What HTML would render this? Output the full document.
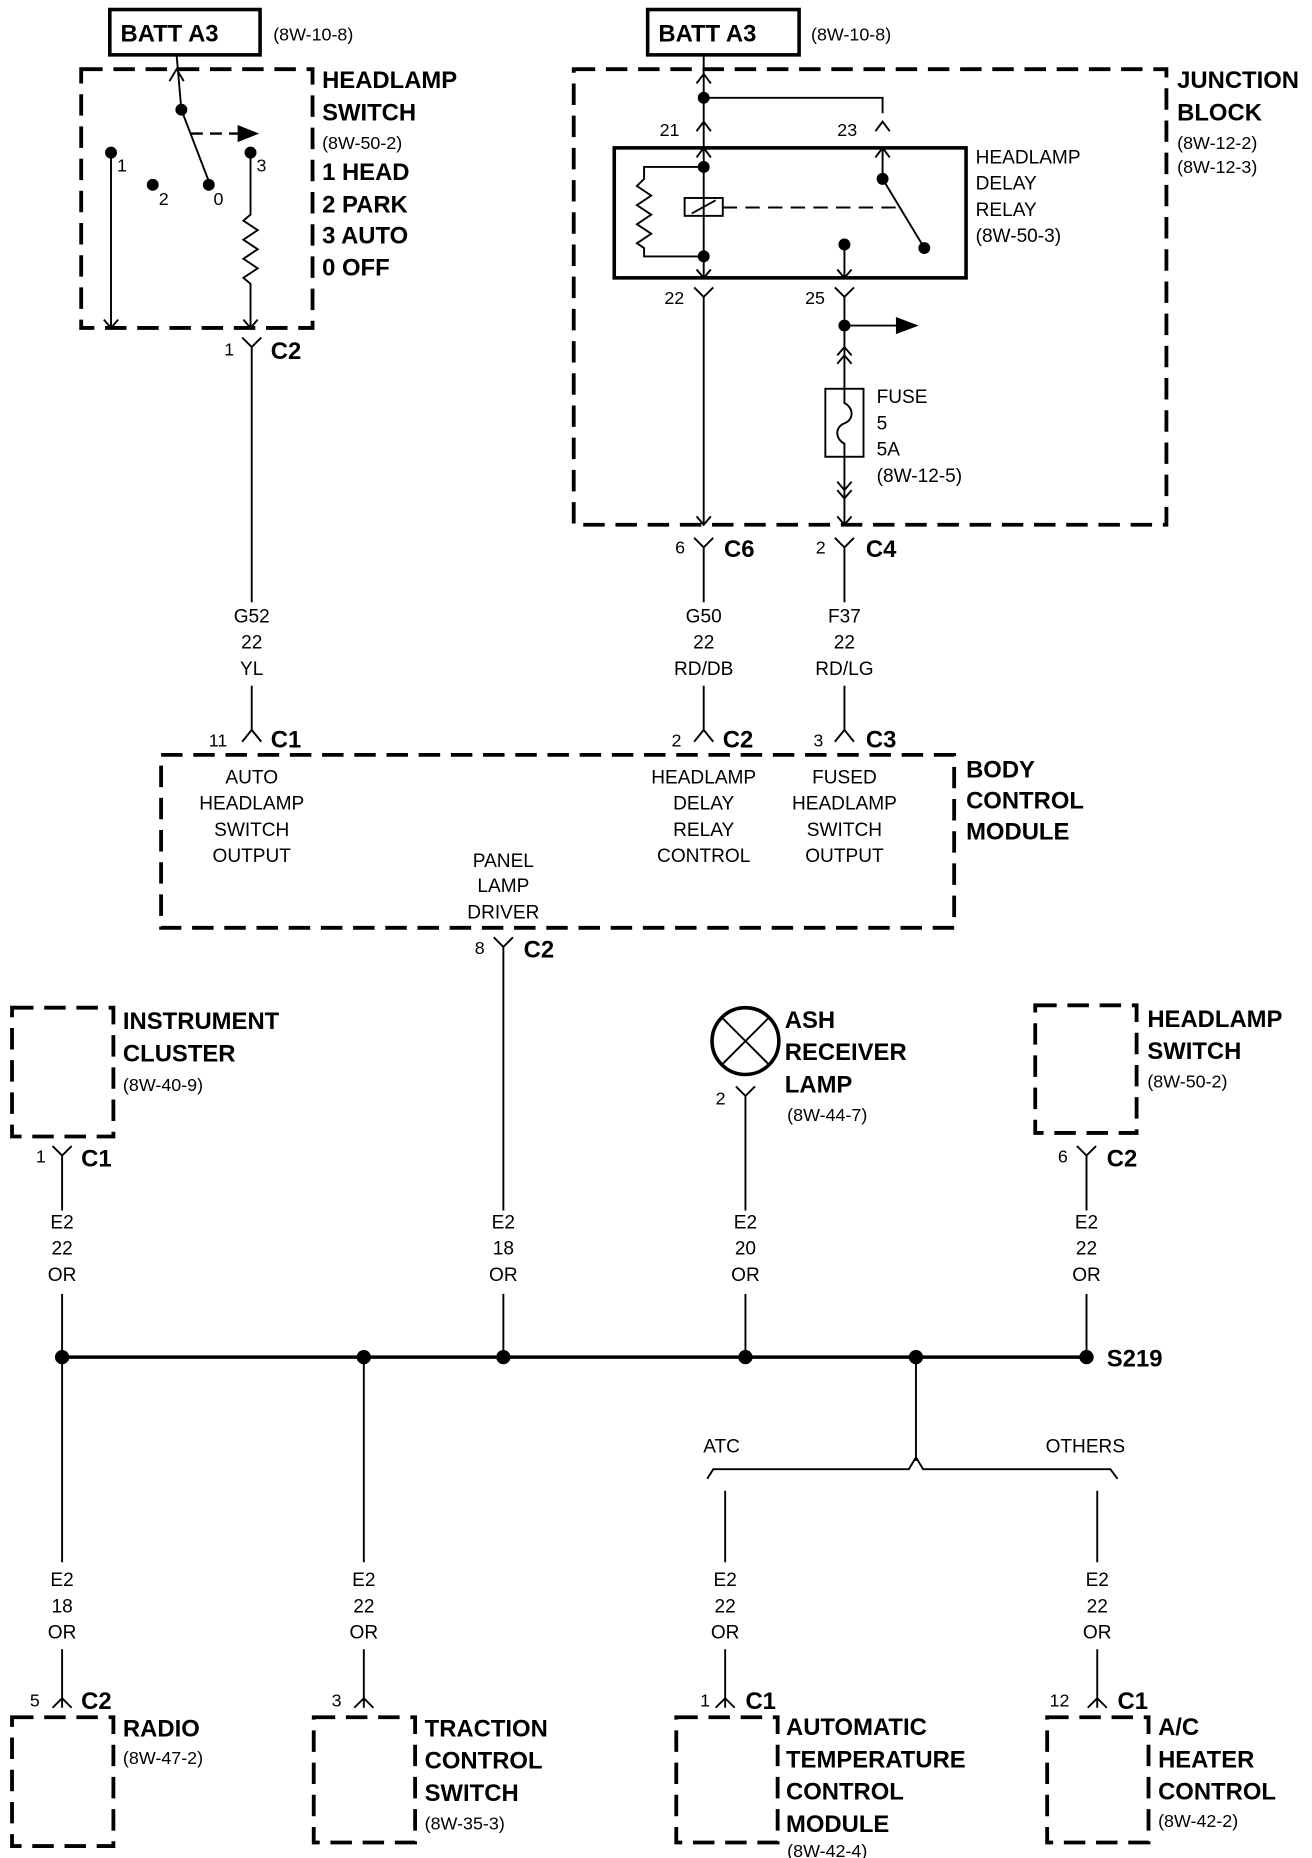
<!DOCTYPE html>
<html><head><meta charset="utf-8"><style>
html,body{margin:0;padding:0;background:#fff;}
svg{display:block;}
text{font-family:"Liberation Sans Narrow","Liberation Sans",sans-serif;fill:#000;}
.b{font-weight:bold;font-size:20px;}
.s{font-size:15px;}
.m{font-size:16px;}
.c{text-anchor:middle;}
</style></head><body>
<svg width="1312" height="1858" viewBox="0 0 1100 1558" xmlns="http://www.w3.org/2000/svg">
<g fill="none" stroke="#000" stroke-width="1.6">
<g stroke-width="3.2" stroke-dasharray="18 9">
<rect x="68" y="58" width="194" height="217"/>
<rect x="481" y="58" width="497" height="382"/>
<rect x="135" y="633" width="665" height="145"/>
<rect x="10" y="845" width="85" height="108"/>
<rect x="868" y="843" width="85" height="107"/>
<rect x="10" y="1440" width="85" height="108"/>
<rect x="263" y="1440" width="85" height="105"/>
<rect x="567" y="1440" width="85" height="105"/>
<rect x="878" y="1440" width="85" height="105"/>
</g>
<rect x="92" y="8" width="126" height="38" stroke-width="3"/>
<rect x="543" y="8" width="127" height="38" stroke-width="3"/>
<rect x="515" y="124" width="295" height="109" stroke-width="3"/>

<path d="M148 46 L152 92 L175 152"/>
<path d="M142 68 L148 58 L154 68"/>
<path d="M160 112 L205 112" stroke-dasharray="10 6" stroke-width="2"/>
<path d="M200 106 L215 112 L200 118 Z" fill="#000"/>
<path d="M93 128 V275 M87 268 L93 275 L99 268"/>
<path d="M210 128 V180 L204 185 L216 193 L204 201 L216 209 L204 217 L216 225 L204 233 L210 238 V275 M204 268 L210 275 L216 268"/>
<path d="M203 283 L211 291 L219 283 M211 291 V505 M211 575 V612 M203 622 L211 612 L219 622"/>

<path d="M590 46 V124 M584 70 L590 62 L596 70 M584 110 L590 102 L596 110 M590 82 H740 V95 M734 110 L740 102 L746 110 M740 124 V150 L775 208"/>
<path d="M584 132 L590 124 L596 132 M734 132 L740 124 L746 132"/>
<path d="M590 124 V233 M590 140 H540 V150 L534 156 L546 164 L534 172 L546 180 L534 188 L546 196 L534 204 L540 208 V215 H590"/>
<rect x="574" y="166" width="32" height="15"/>
<path d="M580 179 L600 168"/>
<path d="M606 174 H752" stroke-dasharray="12 7"/>
<path d="M708 205 V233 M702 226 L708 233 L714 226 M584 226 L590 233 L596 226"/>
<path d="M582 241 L590 249 L598 241 M590 249 V440 M584 433 L590 440 L596 433"/>
<path d="M700 241 L708 249 L716 241 M708 249 V326 M708 273 H755"/>
<path d="M752 267 L768 273 L752 279 Z" fill="#000"/>
<path d="M702 298 L708 291 L714 298 M702 305 L708 298 L714 305"/>
<rect x="692" y="326" width="32" height="57"/>
<path d="M708 326 V338 C716 342 716 352 708 355 C700 358 700 368 708 372 V383"/>
<path d="M708 383 V440 M702 404 L708 411 L714 404 M702 411 L708 418 L714 411 M702 433 L708 440 L714 433"/>
<path d="M582 451 L590 459 L598 451 M590 459 V505 M590 575 V612 M582 622 L590 612 L598 622"/>
<path d="M700 451 L708 459 L716 451 M708 459 V505 M708 575 V612 M700 622 L708 612 L716 622"/>

<path d="M414 786 L422 794 L430 786 M422 794 V1015 M422 1085 V1138"/>
<path d="M44 961 L52 969 L60 961 M52 969 V1015 M52 1085 V1138"/>
<circle cx="625" cy="873" r="28" stroke-width="3"/>
<path d="M605 853 L645 893 M645 853 L605 893"/>
<path d="M617 911 L625 919 L633 911 M625 919 V1015 M625 1085 V1138"/>
<path d="M903 961 L911 969 L919 961 M911 969 V1015 M911 1085 V1138"/>
<path d="M52 1138 H911" stroke-width="3"/>
<path d="M52 1138 V1310 M52 1383 V1432 M44 1432 L52 1424 L60 1432"/>
<path d="M305 1138 V1310 M305 1383 V1432 M297 1432 L305 1424 L313 1432"/>
<path d="M768 1138 V1225 M593 1240 L598 1232 H762 L768 1222 L774 1232 H931 L937 1240"/>
<path d="M608 1250 V1310 M608 1383 V1432 M600 1432 L608 1424 L616 1432"/>
<path d="M920 1250 V1310 M920 1383 V1432 M912 1432 L920 1424 L928 1432"/>
</g>
<g fill="#000">
<circle cx="152" cy="92" r="5"/><circle cx="175" cy="155" r="5"/>
<circle cx="93" cy="128" r="5"/><circle cx="128" cy="155" r="5"/><circle cx="210" cy="128" r="5"/>
<circle cx="590" cy="82" r="5"/><circle cx="590" cy="140" r="5"/><circle cx="590" cy="215" r="5"/>
<circle cx="740" cy="150" r="5"/><circle cx="775" cy="208" r="5"/><circle cx="708" cy="205" r="5"/>
<circle cx="708" cy="273" r="5"/>
<circle cx="52" cy="1138" r="6"/><circle cx="305" cy="1138" r="6"/><circle cx="422" cy="1138" r="6"/>
<circle cx="625" cy="1138" r="6"/><circle cx="768" cy="1138" r="6"/><circle cx="911" cy="1138" r="6"/>
</g>

<text class="b" x="101" y="35">BATT A3</text>
<text class="s" x="229" y="34">(8W-10-8)</text>
<text class="b" x="552" y="35">BATT A3</text>
<text class="s" x="680" y="34">(8W-10-8)</text>
<text class="b" x="270" y="74">HEADLAMP</text>
<text class="b" x="270" y="101">SWITCH</text>
<text class="s" x="270" y="125">(8W-50-2)</text>
<text class="b" x="270" y="151">1 HEAD</text>
<text class="b" x="270" y="178">2 PARK</text>
<text class="b" x="270" y="204">3 AUTO</text>
<text class="b" x="270" y="231">0 OFF</text>
<text class="s" x="98" y="144">1</text>
<text class="s" x="133" y="172">2</text>
<text class="s" x="179" y="172">0</text>
<text class="s" x="215" y="144">3</text>
<text class="s" x="188" y="298">1</text>
<text class="b" x="227" y="301">C2</text>
<text class="m c" x="211" y="522">G52</text>
<text class="m c" x="211" y="544">22</text>
<text class="m c" x="211" y="566">YL</text>
<text class="s" x="175" y="626">11</text>
<text class="b" x="227" y="627">C1</text>

<text class="b" x="987" y="74">JUNCTION</text>
<text class="b" x="987" y="101">BLOCK</text>
<text class="s" x="987" y="125">(8W-12-2)</text>
<text class="s" x="987" y="145">(8W-12-3)</text>
<text class="s" x="553" y="114">21</text>
<text class="s" x="702" y="114">23</text>
<text class="m" x="818" y="137">HEADLAMP</text>
<text class="m" x="818" y="159">DELAY</text>
<text class="m" x="818" y="181">RELAY</text>
<text class="m" x="818" y="203">(8W-50-3)</text>
<text class="s" x="557" y="255">22</text>
<text class="s" x="675" y="255">25</text>
<text class="m" x="735" y="338">FUSE</text>
<text class="m" x="735" y="360">5</text>
<text class="m" x="735" y="382">5A</text>
<text class="m" x="735" y="404">(8W-12-5)</text>
<text class="s" x="566" y="464">6</text>
<text class="b" x="607" y="467">C6</text>
<text class="s" x="684" y="464">2</text>
<text class="b" x="726" y="467">C4</text>
<text class="m c" x="590" y="522">G50</text>
<text class="m c" x="590" y="544">22</text>
<text class="m c" x="590" y="566">RD/DB</text>
<text class="m c" x="708" y="522">F37</text>
<text class="m c" x="708" y="544">22</text>
<text class="m c" x="708" y="566">RD/LG</text>
<text class="s" x="563" y="626">2</text>
<text class="b" x="606" y="627">C2</text>
<text class="s" x="682" y="626">3</text>
<text class="b" x="726" y="627">C3</text>

<text class="b" x="810" y="652">BODY</text>
<text class="b" x="810" y="678">CONTROL</text>
<text class="b" x="810" y="704">MODULE</text>
<text class="m c" x="211" y="657">AUTO</text>
<text class="m c" x="211" y="679">HEADLAMP</text>
<text class="m c" x="211" y="701">SWITCH</text>
<text class="m c" x="211" y="723">OUTPUT</text>
<text class="m c" x="590" y="657">HEADLAMP</text>
<text class="m c" x="590" y="679">DELAY</text>
<text class="m c" x="590" y="701">RELAY</text>
<text class="m c" x="590" y="723">CONTROL</text>
<text class="m c" x="708" y="657">FUSED</text>
<text class="m c" x="708" y="679">HEADLAMP</text>
<text class="m c" x="708" y="701">SWITCH</text>
<text class="m c" x="708" y="723">OUTPUT</text>
<text class="m c" x="422" y="727">PANEL</text>
<text class="m c" x="422" y="748">LAMP</text>
<text class="m c" x="422" y="770">DRIVER</text>
<text class="s" x="398" y="800">8</text>
<text class="b" x="439" y="803">C2</text>

<text class="b" x="103" y="863">INSTRUMENT</text>
<text class="b" x="103" y="890">CLUSTER</text>
<text class="s" x="103" y="915">(8W-40-9)</text>
<text class="s" x="30" y="975">1</text>
<text class="b" x="68" y="978">C1</text>
<text class="b" x="658" y="862">ASH</text>
<text class="b" x="658" y="889">RECEIVER</text>
<text class="b" x="658" y="916">LAMP</text>
<text class="s" x="660" y="940">(8W-44-7)</text>
<text class="s" x="600" y="926">2</text>
<text class="b" x="962" y="861">HEADLAMP</text>
<text class="b" x="962" y="888">SWITCH</text>
<text class="s" x="962" y="912">(8W-50-2)</text>
<text class="s" x="887" y="975">6</text>
<text class="b" x="928" y="978">C2</text>

<text class="m c" x="52" y="1030">E2</text><text class="m c" x="52" y="1052">22</text><text class="m c" x="52" y="1074">OR</text>
<text class="m c" x="422" y="1030">E2</text><text class="m c" x="422" y="1052">18</text><text class="m c" x="422" y="1074">OR</text>
<text class="m c" x="625" y="1030">E2</text><text class="m c" x="625" y="1052">20</text><text class="m c" x="625" y="1074">OR</text>
<text class="m c" x="911" y="1030">E2</text><text class="m c" x="911" y="1052">22</text><text class="m c" x="911" y="1074">OR</text>
<text class="b" x="928" y="1146">S219</text>

<text class="m c" x="605" y="1218">ATC</text>
<text class="m c" x="910" y="1218">OTHERS</text>

<text class="m c" x="52" y="1330">E2</text><text class="m c" x="52" y="1352">18</text><text class="m c" x="52" y="1374">OR</text>
<text class="m c" x="305" y="1330">E2</text><text class="m c" x="305" y="1352">22</text><text class="m c" x="305" y="1374">OR</text>
<text class="m c" x="608" y="1330">E2</text><text class="m c" x="608" y="1352">22</text><text class="m c" x="608" y="1374">OR</text>
<text class="m c" x="920" y="1330">E2</text><text class="m c" x="920" y="1352">22</text><text class="m c" x="920" y="1374">OR</text>

<text class="s" x="25" y="1431">5</text><text class="b" x="68" y="1433">C2</text>
<text class="s" x="278" y="1431">3</text>
<text class="s" x="587" y="1431">1</text><text class="b" x="625" y="1433">C1</text>
<text class="s" x="880" y="1431">12</text><text class="b" x="937" y="1433">C1</text>

<text class="b" x="103" y="1456">RADIO</text>
<text class="s" x="103" y="1479">(8W-47-2)</text>
<text class="b" x="356" y="1456">TRACTION</text>
<text class="b" x="356" y="1483">CONTROL</text>
<text class="b" x="356" y="1510">SWITCH</text>
<text class="s" x="356" y="1534">(8W-35-3)</text>
<text class="b" x="659" y="1455">AUTOMATIC</text>
<text class="b" x="659" y="1482">TEMPERATURE</text>
<text class="b" x="659" y="1509">CONTROL</text>
<text class="b" x="659" y="1536">MODULE</text>
<text class="s" x="660" y="1557">(8W-42-4)</text>
<text class="b" x="971" y="1455">A/C</text>
<text class="b" x="971" y="1482">HEATER</text>
<text class="b" x="971" y="1509">CONTROL</text>
<text class="s" x="971" y="1532">(8W-42-2)</text>
</svg>
</body></html>
